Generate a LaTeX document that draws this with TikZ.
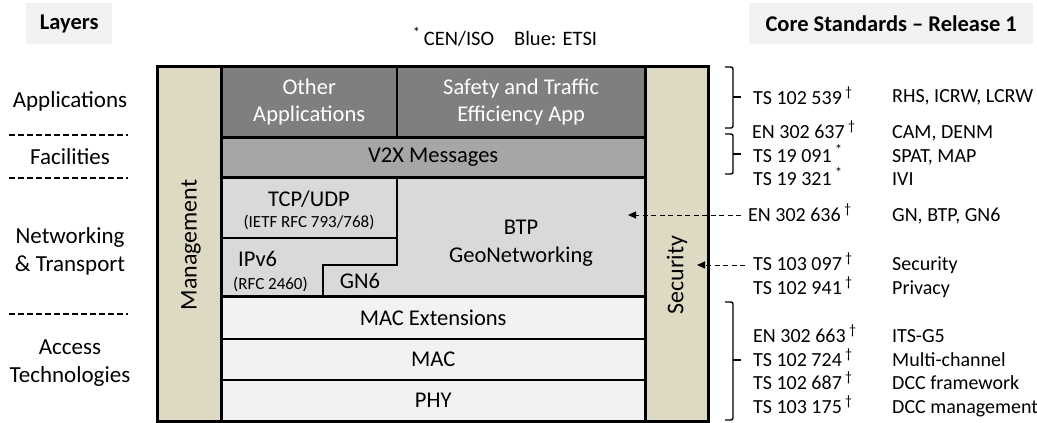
\documentclass[tikz,border=0pt]{standalone}
\usepackage{fontspec}
\setmainfont{Carlito}
\usetikzlibrary{arrows.meta}
\definecolor{beige}{HTML}{DDD9C3}
\definecolor{appgray}{HTML}{7F7F7F}
\definecolor{msggray}{HTML}{A6A6A6}
\definecolor{netgray}{HTML}{D9D9D9}
\definecolor{accgray}{HTML}{F2F2F2}
\definecolor{headgray}{HTML}{F2F2F2}
\begin{document}
\begin{tikzpicture}[x=1pt,y=-1pt,
  layer/.style={rectangle, inner sep=0pt, anchor=north west, align=center,
    font=\fontsize{22.5}{27}\selectfont},
  layertxt/.style={inner sep=0pt, align=center, font=\fontsize{22.5}{27}\selectfont},
  smalltxt/.style={inner sep=0pt, font=\fontsize{17}{20}\selectfont},
  lefttxt/.style={inner sep=0pt, align=center, font=\fontsize{23}{28}\selectfont},
  sep/.style={line width=3pt},
  thin/.style={line width=2pt},
  stdtxt/.style={inner sep=0pt, anchor=base west, font=\fontsize{20}{24}\selectfont},
  headbox/.style={rectangle, inner sep=0pt, anchor=north west, fill=headgray,
    font=\fontsize{22.5}{26}\selectfont\bfseries},
  bracket/.style={line width=1.4pt, rounded corners=2pt},
  ldash/.style={line width=1.2pt, dash pattern=on 6pt off 3pt},
  arr/.style={line width=1pt, dash pattern=on 5pt off 3.5pt, -{Triangle[length=8pt,width=7pt]}}
]
\useasboundingbox (0,0) rectangle (1037,423);

% headings
\node[headbox, minimum width=86, minimum height=41] (hlayers) at (26,3) {Layers};
\node[headbox, minimum width=284, minimum height=41] (hcore) at (749,3) {Core Standards -- Release 1};
\node[inner sep=0pt, font=\fontsize{20.5}{24}\selectfont] (legend) at (505,37) {\textsuperscript{*}\,CEN/ISO\hspace{20pt}Blue: ETSI};

% columns
\node[layer, fill=beige, minimum width=64, minimum height=355] (mgmt) at (157,66) {};
\node[layertxt, rotate=90, font=\fontsize{24}{27}\selectfont] (mgmttxt) at (191,245) {Management};
\node[layer, fill=beige, minimum width=63, minimum height=355] (sec) at (645,66) {};
\node[layertxt, rotate=90, font=\fontsize{24}{27}\selectfont] (sectxt) at (677,275) {Security};

% applications
\node[layer, fill=appgray, text=white, minimum width=176, minimum height=71] (other) at (221,66) {Other\\Applications};
\node[layer, fill=appgray, text=white, minimum width=248, minimum height=71] (safety) at (397,66) {Safety and Traffic\\Efficiency App};
% facilities
\node[layer, fill=msggray, minimum width=424, minimum height=40] (v2x) at (221,137) {V2X Messages};
% networking
\node[layer, fill=netgray, minimum width=424, minimum height=119] (net) at (221,177) {};
\node[layertxt, anchor=base] (tcp) at (309,206) {TCP/UDP};
\node[smalltxt, anchor=base] (tcpref) at (309,227) {(IETF RFC 793/768)};
\node[layertxt, anchor=base west] (ipv6) at (238,266) {IPv6};
\node[smalltxt, anchor=base west] (ipv6ref) at (233,289) {(RFC 2460)};
\node[layertxt, anchor=base] (gn6) at (360,288) {GN6};
\node[layertxt, anchor=base] (btp) at (521,234) {BTP};
\node[layertxt, anchor=base] (geo) at (521,262) {GeoNetworking};
% access
\node[layer, fill=accgray, minimum width=424, minimum height=43] (macext) at (221,296) {MAC Extensions};
\node[layer, fill=accgray, minimum width=424, minimum height=41] (mac) at (221,339) {MAC};
\node[layer, fill=accgray, minimum width=424, minimum height=41] (phy) at (221,380) {PHY};

% inner lines
\draw[thin] (221,238) -- (397,238);
\draw[thin] (397,177) -- (397,265) -- (323,265) -- (323,296);
\draw[thin] (221,339) -- (645,339);
\draw[thin] (221,380) -- (645,380);
\draw[line width=2.5pt] (397,66) -- (397,137);
\draw[sep] (221,137) -- (645,137);
\draw[sep] (221,177) -- (645,177);
\draw[sep] (221,296) -- (645,296);
\draw[sep] (221,66) -- (221,421);
\draw[sep] (645,66) -- (645,421);
\draw[sep] (157,66) rectangle (708,421);

% left labels
\node[lefttxt] (lapp) at (70,101) {Applications};
\node[lefttxt] (lfac) at (70,157) {Facilities};
\node[lefttxt] (lnet) at (70,251) {Networking\\\& Transport};
\node[lefttxt] (lacc) at (70,363) {Access\\Technologies};
\coordinate (d1a) at (9,135); \coordinate (d1b) at (128,135);
\coordinate (d2a) at (9,178); \coordinate (d2b) at (128,178);
\coordinate (d3a) at (9,314); \coordinate (d3b) at (128,314);
\draw[ldash] (d1a) -- (d1b);
\draw[ldash] (d2a) -- (d2b);
\draw[ldash] (d3a) -- (d3b);

% brackets
\draw[bracket] (725,67) -- (733,67) -- (733,128) -- (725,128);
\draw[bracket] (733,97) -- (741,97);
\draw[bracket] (725,134) -- (733,134) -- (733,174) -- (725,174);
\draw[bracket] (733,154) -- (741,154);
\draw[bracket] (725,302) -- (733,302) -- (733,420) -- (725,420);
\draw[bracket] (733,360) -- (741,360);

% standards
\node[stdtxt] (s1) at (753,104) {TS 102 539\,\textsuperscript{†}};
\node[stdtxt] (s1b) at (892,102) {RHS, ICRW, LCRW};
\node[stdtxt] (s2) at (752,138.5) {EN 302 637\,\textsuperscript{†}};
\node[stdtxt] (s2b) at (892,138.5) {CAM, DENM};
\node[stdtxt] (s3) at (753,162) {TS 19 091\,\textsuperscript{*}};
\node[stdtxt] (s3b) at (892,162) {SPAT, MAP};
\node[stdtxt] (s4) at (753,185.5) {TS 19 321\,\textsuperscript{*}};
\node[stdtxt] (s4b) at (892,185.5) {IVI};
\node[stdtxt] (s5) at (748,221) {EN 302 636\,\textsuperscript{†}};
\node[stdtxt] (s5b) at (892,221) {GN, BTP, GN6};
\node[stdtxt] (s6) at (753,270) {TS 103 097\,\textsuperscript{†}};
\node[stdtxt] (s6b) at (892,270) {Security};
\node[stdtxt] (s7) at (753,294) {TS 102 941\,\textsuperscript{†}};
\node[stdtxt] (s7b) at (892,294) {Privacy};
\node[stdtxt] (s8) at (753,342) {EN 302 663\,\textsuperscript{†}};
\node[stdtxt] (s8b) at (892,342) {ITS-G5};
\node[stdtxt] (s9) at (753,366) {TS 102 724\,\textsuperscript{†}};
\node[stdtxt] (s9b) at (892,366) {Multi-channel};
\node[stdtxt] (s10) at (753,389.5) {TS 102 687\,\textsuperscript{†}};
\node[stdtxt] (s10b) at (892,389.5) {DCC framework};
\node[stdtxt] (s11) at (753,413) {TS 103 175\,\textsuperscript{†}};
\node[stdtxt] (s11b) at (892,413) {DCC management};

% arrows
\coordinate (a1) at (628,215);
\coordinate (a2) at (697,265);
\coordinate (a1s) at (741,215);
\coordinate (a2s) at (745,265);
\draw[arr] (a1s) -- (a1);
\draw[arr] (a2s) -- (a2);
\end{tikzpicture}
\end{document}
